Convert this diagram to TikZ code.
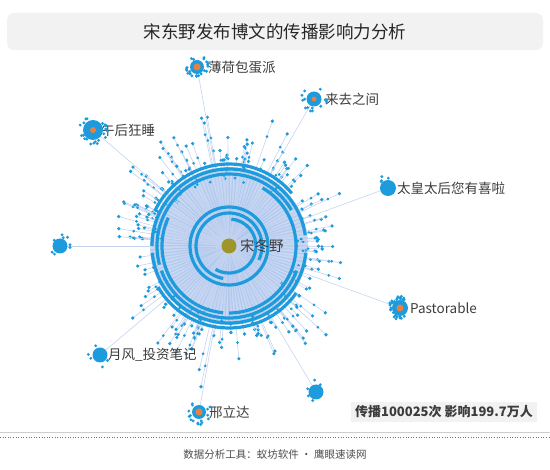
\documentclass[tikz,border=0pt]{standalone}
\usepackage{fontspec}
\setmainfont{Noto Sans CJK SC}
\usetikzlibrary{calc}
\definecolor{hubblue}{RGB}{30,155,220}
\definecolor{hublink}{RGB}{196,212,240}
\definecolor{diskfill}{RGB}{200,217,244}
\definecolor{diskray}{RGB}{178,200,238}
\definecolor{hubcore}{RGB}{234,128,62}
\definecolor{rootdot}{RGB}{158,150,42}
\definecolor{boxgray}{RGB}{242,242,242}
\definecolor{textgray}{RGB}{60,60,60}

\tikzset{
  hub/.style={circle,fill=hubblue,minimum size=#1,inner sep=0pt},
  hub/.default=14pt,
  core/.style={circle,fill=hubcore,minimum size=7pt,inner sep=0pt},
  link/.style={hublink,line width=0.6pt},
  ring/.style={hubblue,line width=3.2pt},
  lab/.style={anchor=west,font=\fontsize{13.5}{14}\selectfont,text=textgray,inner sep=0pt},
}

% small dots around a hub
\newcommand\satellites[3]{%
  \foreach \k in {1,...,#2}{%
    \pgfmathsetmacro\sa{rnd*360}%
    \pgfmathsetmacro\sr{#3+rnd*4}%
    \fill[hubblue] (#1) ++(\sa:\sr) circle (1.6);
  }%
}

\begin{document}
\begin{tikzpicture}[x=1pt,y=-1pt]
      \useasboundingbox (0,0) rectangle (550,470);
      \pgfmathsetseed{11}

      \node[fill=boxgray,rounded corners=7pt,minimum width=536pt,minimum height=37pt,
        font=\fontsize{17.5}{18}\selectfont,text=black!85] (title) at (275,31.5) {宋东野发布博文的传播影响力分析};

      \coordinate (root) at (229,246);
      \fill[diskfill] (root) circle (79);
      \foreach \a in {0,3,...,357}
        \draw[diskray,line width=1.2pt] (root) -- ++(\a:79);

      % rays to the outer dots
      \foreach \i in {1,...,170}{
        \pgfmathsetmacro\a{rnd*360}
        \pgfmathsetmacro\r{86+rnd*rnd*60}
        \draw[link] (root) -- ++(\a:\r);
        \fill[hubblue] (root) ++(\a:\r) circle (1.8);
        \pgfmathsetmacro\q{\r-8-rnd*14}
        \fill[hubblue] (root) ++(\a:\q) circle (1.5);
      }

      % hubs
      \coordinate (mint) at (197,67);
      \coordinate (laiqu) at (314,99);
      \coordinate (wuhou) at (93,130);
      \coordinate (taihou) at (388,188);
      \coordinate (lefthub) at (60,246);
      \coordinate (pastor) at (400,308);
      \coordinate (yuefeng) at (100,355);
      \coordinate (xingli) at (199,412);
      \coordinate (lowhub) at (316,392);

      \foreach \h in {mint,laiqu,wuhou,taihou,lefthub,pastor,yuefeng,xingli,lowhub}
        \draw[link] (root) -- (\h);

      % rings
      \foreach \r/\s/\e in {77/5/175, 77/180/352, 72/20/160, 72/165/330, 67/-60/90, 67/95/205, 82/35/150, 82/205/320,
                            39/0/360, 33/100/385, 27/-85/120}
        \draw[ring] (root) ++(\s:\r) arc (\s:\e:\r);

      \node[circle,fill=rootdot,minimum size=15pt,inner sep=0pt] (rootdot) at (root) {};
      \node[lab,font=\fontsize{14.5}{15}\selectfont] (rootlab) at (240,246) {宋冬野};

      \node[lab] (mintlab) at (208,67) {薄荷包蛋派};
      \node[lab] (laiqulab) at (325,99) {来去之间};
      \node[lab] (wuhoulab) at (101,130) {午后狂睡};
      \node[lab] (taihoulab) at (397,188) {太皇太后您有喜啦};
      \node[lab] (pastorlab) at (410,308) {Pastorable};
      \node[lab] (yuefenglab) at (108,355) {月风\_投资笔记};
      \node[lab] (xinglilab) at (209,412) {邢立达};

      \satellites{mint}{22}{8}
      \satellites{laiqu}{14}{9}
      \satellites{wuhou}{20}{11}
      \satellites{taihou}{4}{9}
      \satellites{lefthub}{8}{8}
      \satellites{pastor}{30}{8}
      \satellites{yuefeng}{5}{9}
      \satellites{xingli}{16}{9}
      \satellites{lowhub}{5}{8}

      \node[hub=14pt] (minthub) at (mint) {};
      \node[core] at (mint) {};
      \node[hub=15pt] (laiquhub) at (laiqu) {};
      \node[core,minimum size=5pt] at (laiqu) {};
      \node[hub=20pt] (wuhouhub) at (wuhou) {};
      \node[core,minimum size=6pt] at (wuhou) {};
      \node[hub=16pt] (taihouhub) at (taihou) {};
      \node[hub=15pt] (lefthubnode) at (lefthub) {};
      \node[hub=16pt] (pastorhub) at (pastor) {};
      \node[core] at (pastor) {};
      \node[hub=15pt] (yuefenghub) at (yuefeng) {};
      \node[hub=14pt] (xinglihub) at (xingli) {};
      \node[core] at (xingli) {};
      \node[hub=15pt] (lowhubnode) at (lowhub) {};

      \node[fill=boxgray,inner sep=4pt,font=\fontsize{13}{14}\selectfont\bfseries,text=textgray] (stats) at (444,412) {传播100025次 影响199.7万人};

      \draw[black!20,line width=0.6pt] (0,432) -- (550,432);
      \draw[black!55,dotted,line width=0.6pt] (0,437) -- (550,437);
      \node[font=\fontsize{10.5}{11}\selectfont,text=black!70] (footer) at (275,455) {数据分析工具：蚁坊软件 · 鹰眼速读网};

    \end{tikzpicture}
\end{document}
